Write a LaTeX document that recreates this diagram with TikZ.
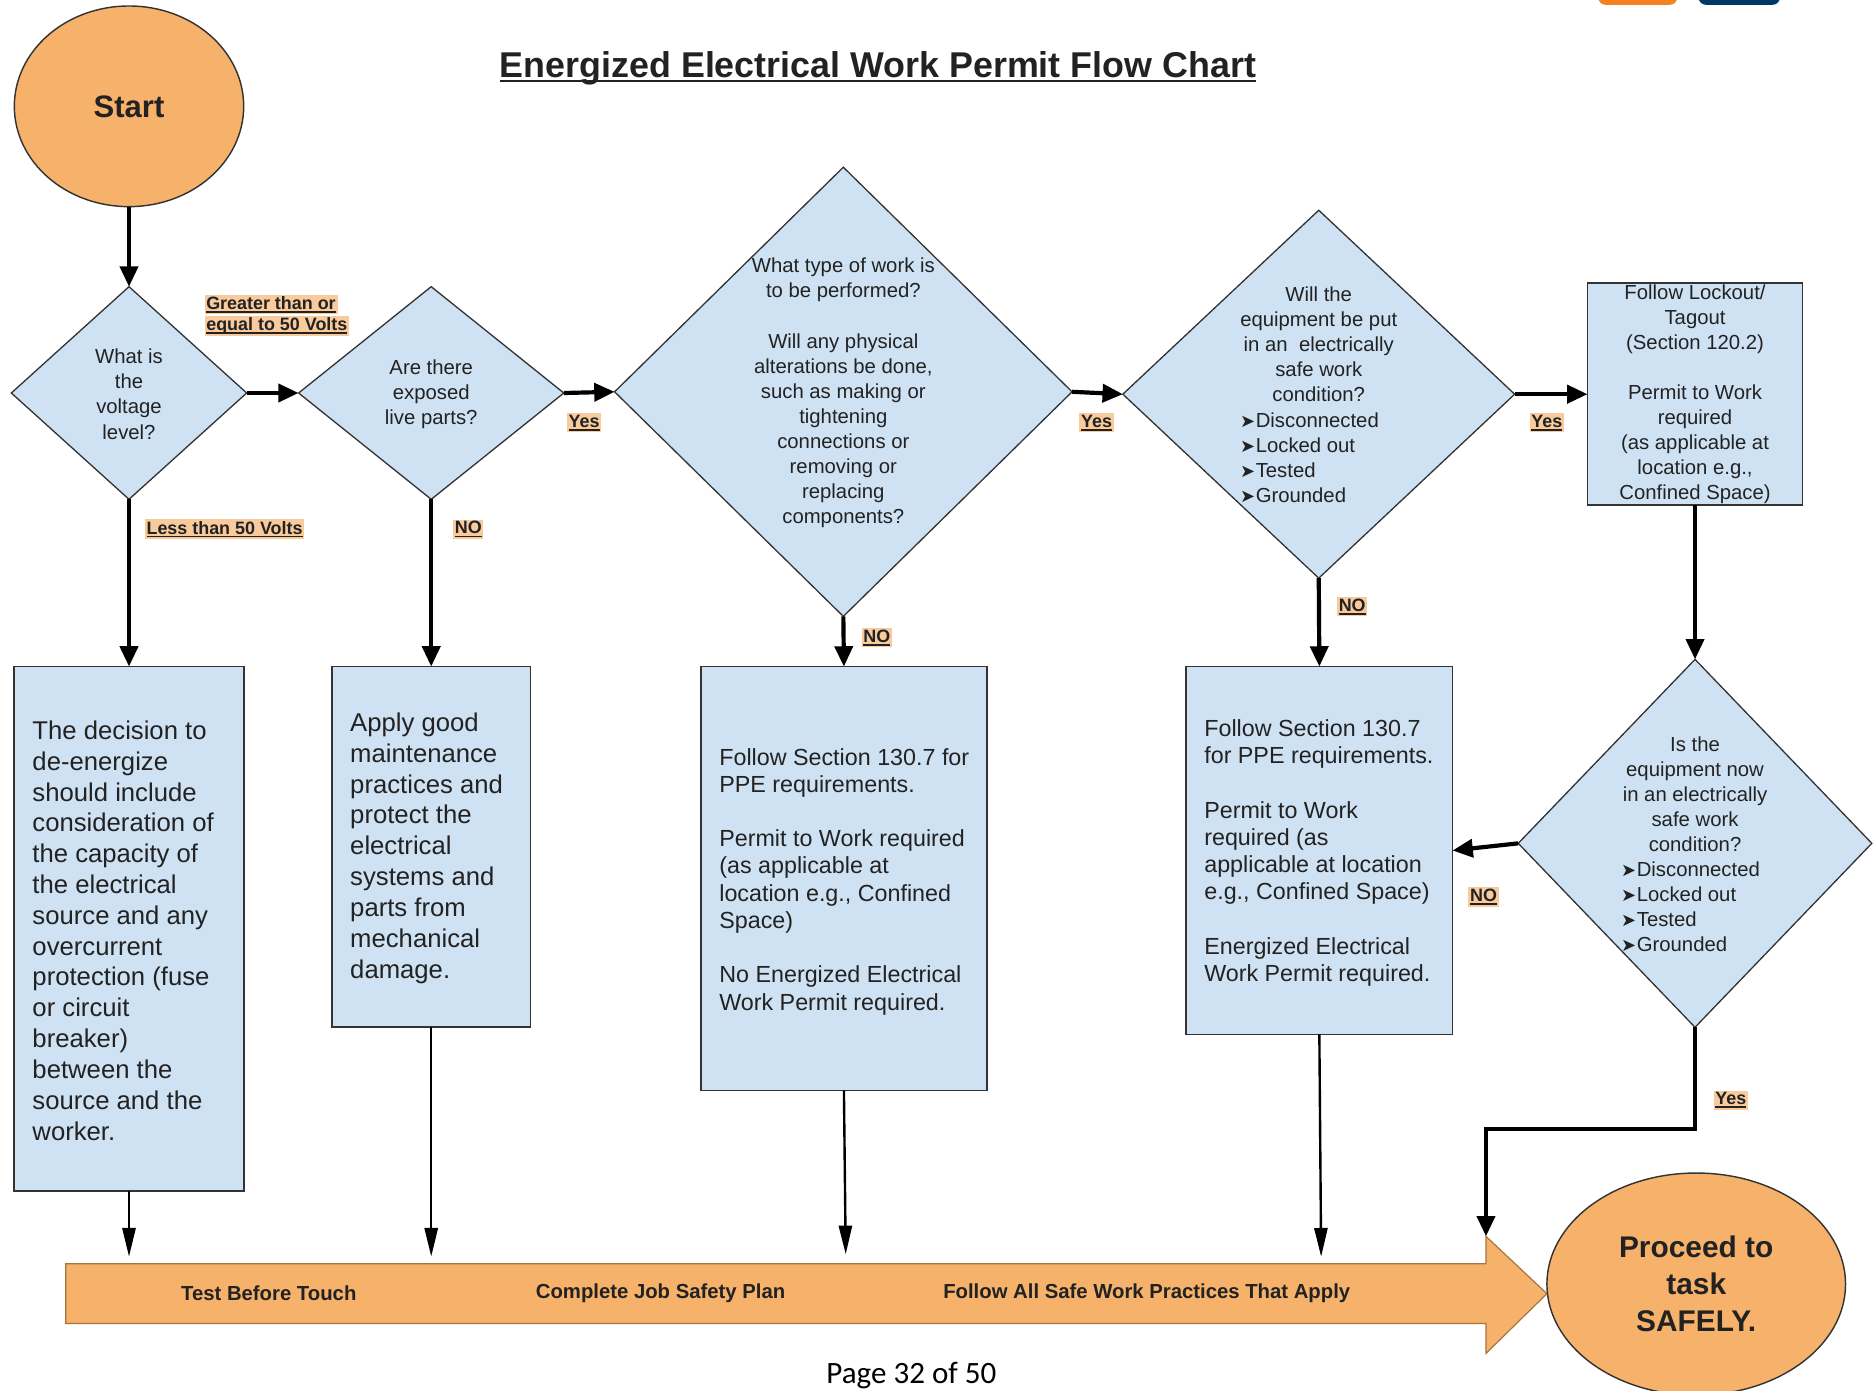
\documentclass[tikz,border=0pt]{standalone}
\usepackage{fontspec}
\setmainfont{Liberation Sans}
\newfontfamily\symf{DejaVu Sans}
\newfontfamily\footf{Carlito}
\usetikzlibrary{shapes.geometric,arrows.meta,calc}
\definecolor{boxblue}{HTML}{CFE2F3}
\definecolor{orfill}{HTML}{F6B26B}
\definecolor{orline}{HTML}{A8743E}
\definecolor{labbg}{HTML}{F9CB9C}
\definecolor{txtc}{HTML}{222222}
\definecolor{lineg}{HTML}{333333}
\definecolor{logoor}{HTML}{F58220}
\definecolor{logobl}{HTML}{003865}
\newcommand\myul[3]{\setbox0\hbox{#3}\rlap{\rule[-#2]{\wd0}{#1}}\box0}
\newcommand\ulb[1]{\myul{1.2pt}{2.6pt}{#1}}
\newcommand\bul{{\symf\fontsize{15}{15}\selectfont ➤}\kern0.5pt}
\begin{document}
\begin{tikzpicture}[x=1pt,y=-1pt,
  dia/.style={shape=diamond, draw=lineg, fill=boxblue, line width=1.1pt, inner sep=0pt, outer sep=0pt},
  pbox/.style={shape=rectangle, draw=lineg, fill=boxblue, line width=1.4pt, inner sep=0pt, outer sep=0pt},
  term/.style={shape=ellipse, draw=lineg, fill=orfill, line width=1.2pt, inner sep=0pt, outer sep=0pt, text=txtc, align=center},
  qtxt/.style={font=\fontsize{17}{21}\selectfont, align=center, text=txtc, inner sep=0pt},
  bltxt/.style={font=\fontsize{17}{21}\selectfont, align=left, text=txtc, inner sep=0pt, anchor=west},
  bigtxt/.style={font=\fontsize{21.5}{25.8}\selectfont, align=left, text=txtc, inner sep=0pt, anchor=west},
  midtxt/.style={font=\fontsize{19.5}{22.8}\selectfont, align=left, text=txtc, inner sep=0pt, anchor=west},
  lab/.style={fill=labbg, inner sep=1.5pt, font=\fontsize{15}{18}\selectfont\bfseries, text=txtc},
  conn/.style={line width=3.5pt, draw=black, -{Triangle[length=17pt,width=15pt]}},
  feed/.style={line width=2pt, draw=black, -{Triangle[length=24pt,width=11pt]}},
  atxt/.style={font=\fontsize{17}{20}\selectfont\bfseries, text=txtc, inner sep=0pt},
]
\fill[white] (0,0) rectangle (1568,1164);
\useasboundingbox (0,0) rectangle (1568,1164);
% partial logos at top right
\fill[logoor, rounded corners=6pt] (1338,-30) rectangle (1404,4);
\fill[logobl, rounded corners=6pt] (1422,-30) rectangle (1490,4);
% title
\node[inner sep=0pt, font=\fontsize{30}{36}\selectfont\bfseries, text=txtc] (title) at (735,57)
  {\myul{2pt}{4pt}{Energized Electrical Work Permit Flow Chart}};
% start
\node[term, minimum width=192, minimum height=168, font=\fontsize{26}{30}\selectfont\bfseries] (start) at (108,89) {Start};
% diamonds
\node[dia, minimum width=197, minimum height=178] (d1) at (108,329) {};
\node[qtxt] (d1t) at (108,330) {What is\\the\\voltage\\level?};
\node[dia, minimum width=222, minimum height=178] (d2) at (361,329) {};
\node[qtxt] (d2t) at (361,330) {Are there\\exposed\\live parts?};
\node[dia, minimum width=383, minimum height=376] (d3) at (706,328) {};
\node[qtxt] (d3t) at (706,329) {What type of work is\\to be performed?\\[21pt]Will any physical\\alterations be done,\\such as making or\\tightening\\connections or\\removing or\\replacing\\components?};
\node[dia, minimum width=328, minimum height=308] (d4) at (1104,330) {};
\node[qtxt] (d4t) at (1104,288) {Will the\\equipment be put\\in an~ electrically\\safe work\\condition?};
\node[bltxt] (d4b) at (1038,383) {\bul Disconnected\\\bul Locked out\\\bul Tested\\\bul Grounded};
\node[pbox, minimum width=180, minimum height=186] (b5) at (1419,330) {};
\node[qtxt] (b5t) at (1419,330) {Follow Lockout/\\Tagout\\(Section 120.2)\\[21pt]Permit to Work\\required\\(as applicable at\\location e.g.,\\Confined Space)};
\node[dia, minimum width=296, minimum height=308] (d6) at (1419,706) {};
\node[qtxt] (d6t) at (1419,665) {Is the\\equipment now\\in an electrically\\safe work\\condition?};
\node[bltxt] (d6b) at (1357,759) {\bul Disconnected\\\bul Locked out\\\bul Tested\\\bul Grounded};
% lower boxes
\node[pbox, minimum width=192, minimum height=439] (b1) at (108,777.5) {};
\node[bigtxt] (b1t) at (27,779) {The decision to\\de-energize\\should include\\consideration of\\the capacity of\\the electrical\\source and any\\overcurrent\\protection (fuse\\or circuit\\breaker)\\between the\\source and the\\worker.};
\node[pbox, minimum width=166, minimum height=302] (b2) at (361,709) {};
\node[bigtxt] (b2t) at (293,710) {Apply good\\maintenance\\practices and\\protect the\\electrical\\systems and\\parts from\\mechanical\\damage.};
\node[pbox, minimum width=239, minimum height=355] (b3) at (706.5,735.5) {};
\node[midtxt] (b3t) at (602,738) {Follow Section 130.7 for\\PPE requirements.\\[22.8pt]Permit to Work required\\(as applicable at\\location e.g., Confined\\Space)\\[22.8pt]No Energized Electrical\\Work Permit required.};
\node[pbox, minimum width=223, minimum height=308] (b4) at (1104.5,712) {};
\node[midtxt] (b4t) at (1008,714) {Follow Section 130.7\\for PPE requirements.\\[22.8pt]Permit to Work\\required (as\\applicable at location\\e.g., Confined Space)\\[22.8pt]Energized Electrical\\Work Permit required.};
% big arrow
\path[draw=orline, line width=1pt, fill=orfill] (55,1058) -- (1244,1058) -- (1244,1035) -- (1295,1083) -- (1244,1133) -- (1244,1108) -- (55,1108) -- cycle;
\node[atxt] (a1) at (225,1083) {Test Before Touch};
\node[atxt] (a2) at (553,1083) {Complete Job Safety Plan};
\node[atxt] (a3) at (960,1083) {Follow All Safe Work Practices That Apply};
\coordinate (e1) at (108,1052);
\coordinate (e2) at (361,1052);
\coordinate (e3) at (708,1050);
\coordinate (e4) at (1106,1052);
\coordinate (e5) at (1244,1035);
% end
\node[term, minimum width=250, minimum height=186, font=\fontsize{25}{31}\selectfont\bfseries] (end) at (1420,1075) {Proceed to\\task\\SAFELY.};
% footer
\node[font=\footf\fontsize{26}{30}\selectfont, anchor=base, inner sep=0pt, text=black] (foot) at (763,1158) {Page 32 of 50};
% connectors
\draw[conn] (start.south) -- (d1.north);
\draw[conn] (d1.east) -- (d2.west);
\draw[conn] (d2.east) -- (d3.west);
\draw[conn] (d3.east) -- (d4.west);
\draw[conn] (d4.east) -- (b5.west);
\draw[conn] (b5.south) -- (d6.north);
\draw[conn] (d6.west) -- (b4.east);
\draw[conn] (d1.south) -- (b1.north);
\draw[conn] (d2.south) -- (b2.north);
\draw[conn] (d3.south) -- (b3.north);
\draw[conn] (d4.south) -- (b4.north);
\draw[conn] (d6.south) -- ++(0,85) -| (e5);
\draw[feed] (b1.south) -- (e1);
\draw[feed] (b2.south) -- (e2);
\draw[feed] (b3.south) -- (e3);
\draw[feed] (b4.south) -- (e4);
% labels
\node[lab, anchor=west] (l1a) at (171,255) {\ulb{Greater than or}};
\node[lab, anchor=west] (l1b) at (171,273) {\ulb{equal to 50 Volts}};
\node[lab, anchor=west] (l2) at (121,443) {\ulb{Less than 50 Volts}};
\node[lab] (y1) at (489,354) {\ulb{Yes}};
\node[lab] (n1) at (392,443) {\ulb{NO}};
\node[lab] (y2) at (918,354) {\ulb{Yes}};
\node[lab] (n2) at (734,534) {\ulb{NO}};
\node[lab] (y3) at (1295,354) {\ulb{Yes}};
\node[lab] (n3) at (1132,508) {\ulb{NO}};
\node[lab] (n4) at (1242,751) {\ulb{NO}};
\node[lab] (y4) at (1449,921) {\ulb{Yes}};
\end{tikzpicture}
\end{document}
